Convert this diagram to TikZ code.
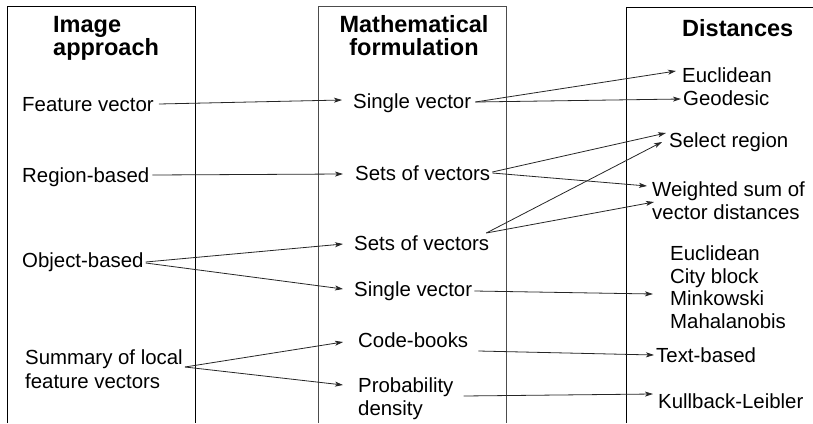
\documentclass[tikz,border=0pt]{standalone}
\usepackage{fontspec}
\setmainfont{Liberation Sans}
\usetikzlibrary{arrows.meta,calc}
\tikzset{
  txt/.style={font=\fontsize{20.4}{23}\selectfont, inner sep=0pt, anchor=base west, align=left},
  hdr/.style={font=\bfseries\fontsize{23.5}{23}\selectfont, inner sep=0pt, anchor=base west},
  frame/.style={line width=1pt, draw=black},
  conn/.style={line width=0.8pt, draw=black!85, -{Stealth[length=8pt,width=5pt,inset=2pt]}}
}
\begin{document}
\begin{tikzpicture}[x=1pt,y=-1pt]
\useasboundingbox (0,0) rectangle (813,423);
% frames
\draw[frame] (7,423) -- (7,6) -- (195,6) -- (195,423);
\draw[frame, draw=black!70] (318,423) -- (318,6) -- (506,6) -- (506,423);
\draw[frame] (626,423) -- (626,7) -- (813,7);
% headers (base = last line)
\node[hdr, align=left] (hA) at (53,55) {Image\\approach};
\node[hdr, align=center, anchor=base] (hM) at (414,55) {Mathematical\\formulation};
\node[hdr] (hD) at (682,36) {Distances};
% left column
\node[txt] (fv) at (22,111) {Feature vector};
\node[txt] (rb) at (22,182) {Region-based};
\node[txt] (ob) at (22,267) {Object-based};
\node[txt, font=\fontsize{20.4}{24}\selectfont] (sm) at (25,388) {Summary of local\\feature vectors};
% middle column
\node[txt] (sv1) at (353,108) {Single vector};
\node[txt] (sets1) at (355,180) {Sets of vectors};
\node[txt] (sets2) at (354,250) {Sets of vectors};
\node[txt] (sv2) at (354,296) {Single vector};
\node[txt] (cb) at (358,347) {Code-books};
\node[txt] (pd) at (358,415) {Probability\\density};
% right column
\node[txt] (eu) at (682,82) {Euclidean};
\node[txt] (ge) at (683,105) {Geodesic};
\node[txt] (sr) at (669,147) {Select region};
\node[txt] (ws) at (652,219) {Weighted sum of\\vector distances};
\node[txt, font=\fontsize{20.4}{22.5}\selectfont] (lst) at (670,328) {Euclidean\\City block\\Minkowski\\Mahalanobis};
\node[txt] (tb) at (656,362) {Text-based};
\node[txt] (kl) at (658,408) {Kullback-Leibler};
% connectors
\draw[conn] ($(fv.base east)+(5,-7)$) -- ($(sv1.base west)+(-11,-8)$);
\draw[conn] ($(sv1.base east)+(4,-6)$) -- ($(eu.base west)+(-6,-11)$);
\draw[conn] ($(sv1.base east)+(4,-6)$) -- ($(ge.base west)+(-2,-6)$);
\draw[conn] ($(rb.base east)+(3,-7)$) -- ($(sets1.base west)+(-12,-6)$);
\draw[conn] ($(sets1.base east)+(2,-8)$) -- ($(sr.base west)+(-3,-14)$);
\draw[conn] ($(sets1.base east)+(2,-7)$) -- ($(ws.base west)+(-5,-33)$);
\draw[conn] ($(sets2.base east)+(-3,-17)$) -- ($(sr.base west)+(-7,-5)$);
\draw[conn] ($(sets2.base east)+(-3,-17)$) -- ($(ws.base west)+(2,-17)$);
\draw[conn] ($(ob.base east)+(2,-5)$) -- ($(sets2.base west)+(-11,-6)$);
\draw[conn] ($(ob.base east)+(2,-4)$) -- ($(sv2.base west)+(-11,-7)$);
\draw[conn] ($(sv2.base east)+(2,-5)$) -- ($(lst.base west)+(-17,-34)$);
\draw[conn] ($(sm.base east)+(2,-21)$) -- ($(cb.base west)+(-15,-5)$);
\draw[conn] ($(sm.base east)+(2,-21)$) -- ($(pd.base west)+(-15,-30)$);
\draw[conn] ($(cb.base east)+(10,4)$) -- ($(tb.base west)+(-2,-7)$);
\draw[conn] ($(pd.base east)+(10,-19)$) -- ($(kl.base west)+(-5,-14)$);
\end{tikzpicture}
\end{document}
